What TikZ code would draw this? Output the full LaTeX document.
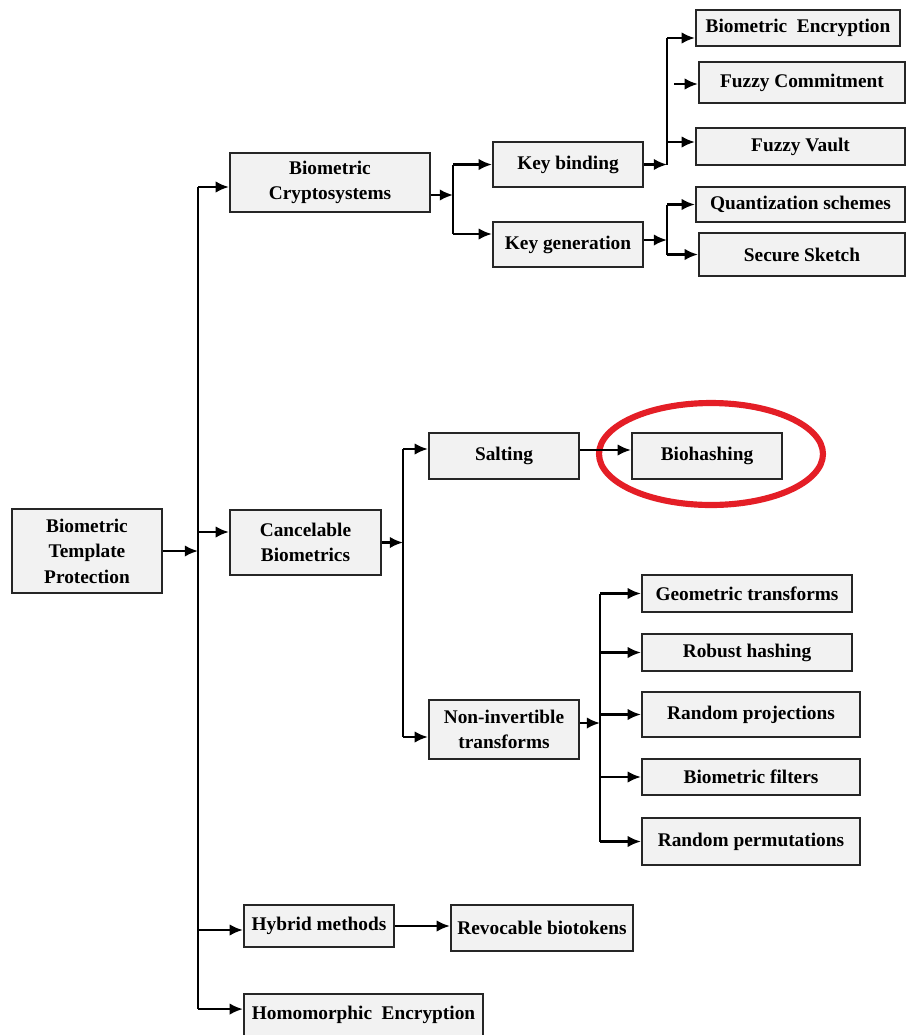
\documentclass[tikz,border=0pt]{standalone}
\usepackage{fontspec}
\setmainfont{Liberation Serif}
\usetikzlibrary{arrows.meta,calc}
\definecolor{myred}{RGB}{228,30,38}

\begin{document}
\begin{tikzpicture}[x=0.02cm, y=-0.02cm,
		Box/.style={draw=black!85, line width=1.3pt, fill=gray!10, align=center, inner sep=2pt, font=\bfseries\fontsize{11}{14.5}\selectfont},
		Link/.style={line width=1.3pt, -{Latex[length=7.5pt,width=6.5pt]}},
		Trunk/.style={line width=1.3pt}]
		\useasboundingbox (0,0) rectangle (909,1035);
		\clip (0,0) rectangle (909,1035);
		% root and first level
		\node[Box, minimum width=3cm, minimum height=1.68cm] (btp) at (87,551) {Biometric\\Template\\Protection};
		\node[Box, minimum width=4cm, minimum height=1.18cm] (bcs) at (330,182.5) {Biometric\\Cryptosystems};
		\node[Box, minimum width=3.02cm, minimum height=1.3cm] (cbio) at (305.5,542.5) {Cancelable\\Biometrics};
		\node[Box, minimum width=3cm, minimum height=0.84cm] (hybrid) at (319,926) {Hybrid methods};
		\node[Box, minimum width=4.78cm, minimum height=0pt, inner ysep=0pt, text height=14.5pt, text depth=15pt, anchor=north] (homenc) at (363.5,993) {Homomorphic\ \ Encryption};
		% biometric cryptosystems
		\node[Box, minimum width=3cm, minimum height=0.9cm] (kbind) at (568,164.5) {Key binding};
		\node[Box, minimum width=3cm, minimum height=0.9cm] (kgen) at (568,244.5) {Key generation};
		\node[Box, minimum width=4.08cm, minimum height=0.72cm] (bioenc) at (798,28) {Biometric\ \ Encryption};
		\node[Box, minimum width=4.12cm, minimum height=0.82cm] (fcommit) at (802,82.5) {Fuzzy Commitment};
		\node[Box, minimum width=4.18cm, minimum height=0.74cm] (fvault) at (800.5,146.5) {Fuzzy Vault};
		\node[Box, minimum width=4.18cm, minimum height=0.7cm] (quant) at (800.5,204.5) {Quantization schemes};
		\node[Box, minimum width=4.12cm, minimum height=0.86cm] (ssketch) at (802,254.5) {Secure Sketch};
		% cancelable biometrics
		\node[Box, minimum width=3cm, minimum height=0.92cm] (salting) at (504,456) {Salting};
		\node[Box, minimum width=3cm, minimum height=0.92cm] (biohash) at (707,456) {Biohashing};
		\node[Box, minimum width=3cm, minimum height=1.18cm] (noninv) at (504,729.5) {Non-invertible\\transforms};
		\node[Box, minimum width=4.2cm, minimum height=0.74cm] (geom) at (747,593.5) {Geometric transforms};
		\node[Box, minimum width=4.2cm, minimum height=0.74cm] (robust) at (747,652.5) {Robust hashing};
		\node[Box, minimum width=4.36cm, minimum height=0.9cm] (rproj) at (751,714.5) {Random projections};
		\node[Box, minimum width=4.36cm, minimum height=0.72cm] (bfilt) at (751,777) {Biometric filters};
		\node[Box, minimum width=4.36cm, minimum height=0.94cm] (rperm) at (751,841.5) {Random permutations};
		% hybrid
		\node[Box, minimum width=3.64cm, minimum height=0.92cm] (revoc) at (542,928) {Revocable biotokens};

		% branch points
		\coordinate (t1) at (198,0);
		\coordinate (t2) at (453,0);
		\coordinate (t3) at (667,0);
		\coordinate (t4) at (403,0);
		\coordinate (t5) at (600,0);
		\coordinate (fcin) at (674,84);
		% arrow ends that sit off the box middles
		\coordinate (bcsIn) at ([yshift=-0.09cm]bcs.west);
		\coordinate (bcsOut) at ([yshift=-0.25cm]bcs.east);
		\coordinate (cbioIn) at ([yshift=0.21cm]cbio.west);
		\coordinate (hybridIn) at ([yshift=-0.08cm]hybrid.west);
		\coordinate (homencIn) at ([yshift=0.22cm]homenc.west);
		\coordinate (kgenIn) at ([yshift=0.21cm]kgen.west);
		\coordinate (kgenOut) at ([yshift=0.09cm]kgen.east);
		\coordinate (bioencIn) at ([yshift=-0.2cm]bioenc.west);
		\coordinate (fvaultIn) at ([yshift=0.09cm]fvault.west);
		\coordinate (saltingIn) at ([yshift=0.14cm]salting.west);
		\coordinate (saltingOut) at ([yshift=0.12cm]salting.east);
		\coordinate (noninvIn) at ([yshift=-0.15cm]noninv.west);
		\coordinate (noninvOut) at ([yshift=0.13cm]noninv.east);

		% main trunk
		\draw[Link] (btp.east) -- (btp.east -| t1);
		\draw[Trunk] (t1 |- bcsIn) -- (t1 |- homencIn);
		\draw[Link] (t1 |- bcsIn) -- (bcsIn);
		\draw[Link] (t1 |- cbioIn) -- (cbioIn);
		\draw[Link] (t1 |- hybridIn) -- (hybridIn);
		\draw[Link] (t1 |- homencIn) -- (homencIn);

		% key binding / key generation
		\draw[Link] (bcsOut) -- (t2 |- bcsOut);
		\draw[Trunk] (t2 |- kbind.west) -- (t2 |- kgenIn);
		\draw[Link] (t2 |- kbind.west) -- (kbind.west);
		\draw[Link] (t2 |- kgenIn) -- (kgenIn);

		\draw[Link] (kbind.east) -- (t3 |- kbind.east);
		\draw[Trunk] (t3 |- bioencIn) -- (t3 |- kbind.east);
		\draw[Link] (t3 |- bioencIn) -- (bioencIn);
		\draw[Link] (fcin) -- (fcin -| fcommit.west);
		\draw[Link] (t3 |- fvaultIn) -- (fvaultIn);

		\draw[Link] (kgenOut) -- (t3 |- kgenOut);
		\draw[Trunk] (t3 |- quant.west) -- (t3 |- ssketch.west);
		\draw[Link] (t3 |- quant.west) -- (quant.west);
		\draw[Link] (t3 |- ssketch.west) -- (ssketch.west);

		% salting / non-invertible transforms
		\draw[Link] (cbio.east) -- (t4 |- cbio.east);
		\draw[Trunk] (t4 |- saltingIn) -- (t4 |- noninvIn);
		\draw[Link] (t4 |- saltingIn) -- (saltingIn);
		\draw[Link] (t4 |- noninvIn) -- (noninvIn);

		\draw[myred, line width=3.5pt] ([xshift=0.08cm, yshift=0.04cm]biohash.center) ellipse [x radius=2.24cm, y radius=1.02cm];
		\draw[Link] (saltingOut) -- (saltingOut -| biohash.west);

		\draw[Link] (noninvOut) -- (t5 |- noninvOut);
		\draw[Trunk] (t5 |- geom.west) -- (t5 |- rperm.west);
		\foreach \leaf in {geom, robust, rproj, bfilt, rperm}
			\draw[Link] (t5 |- \leaf.west) -- (\leaf.west);

		\draw[Link] (hybrid.east) -- (hybrid.east -| revoc.west);
	\end{tikzpicture}
\end{document}
